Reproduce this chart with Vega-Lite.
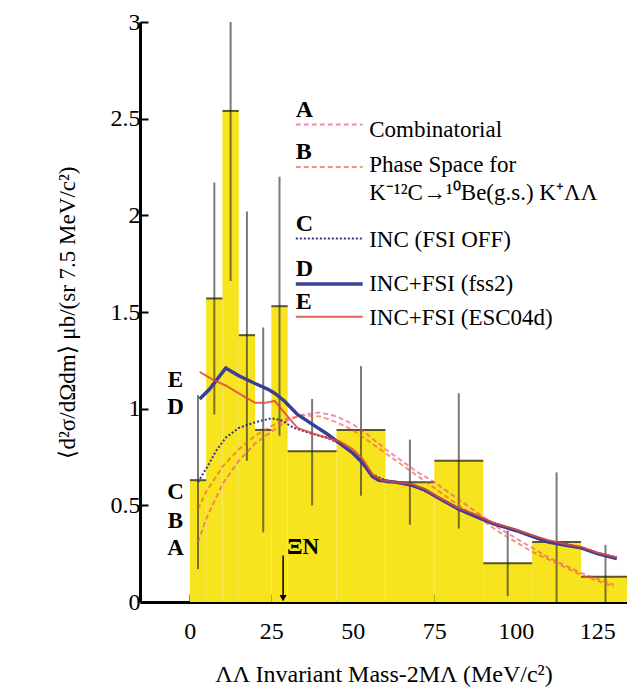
{
  "$schema": "https://vega.github.io/schema/vega-lite/v6.json",
  "autosize": {"type": "none"},
  "padding": {"left": 140, "top": 22, "right": 0, "bottom": 95},
  "width": 487,
  "height": 580,
  "background": "white",
  "config": {
    "view": {"stroke": null},
    "font": "Liberation Serif, Times New Roman, serif",
    "axis": {"labelFont": "Liberation Serif, Times New Roman, serif", "titleFont": "Liberation Serif, Times New Roman, serif", "labelColor": "black", "titleColor": "black", "titleFontWeight": "normal", "domainColor": "black", "tickColor": "black", "grid": false}
  },
  "datasets": {
    "hist": [
      {"lo": 0, "hi": 5, "xc": 2.5, "y": 0.63, "elo": 0.17, "ehi": 1.07},
      {"lo": 5, "hi": 10, "xc": 7.5, "y": 1.57, "elo": 0.97, "ehi": 2.17},
      {"lo": 10, "hi": 15, "xc": 12.5, "y": 2.54, "elo": 1.66, "ehi": 3.42},
      {"lo": 15, "hi": 20, "xc": 17.5, "y": 1.38, "elo": 0.73, "ehi": 2.02},
      {"lo": 20, "hi": 25, "xc": 22.5, "y": 0.89, "elo": 0.36, "ehi": 1.42},
      {"lo": 25, "hi": 30, "xc": 27.5, "y": 1.53, "elo": 0.86, "ehi": 2.2},
      {"lo": 30, "hi": 45, "xc": 37.5, "y": 0.78, "elo": 0.5, "ehi": 1.05},
      {"lo": 45, "hi": 60, "xc": 52.5, "y": 0.89, "elo": 0.55, "ehi": 1.22},
      {"lo": 60, "hi": 75, "xc": 67.5, "y": 0.62, "elo": 0.4, "ehi": 0.84},
      {"lo": 75, "hi": 90, "xc": 82.5, "y": 0.73, "elo": 0.38, "ehi": 1.08},
      {"lo": 90, "hi": 105, "xc": 97.5, "y": 0.2, "elo": 0.03, "ehi": 0.37},
      {"lo": 105, "hi": 120, "xc": 112.5, "y": 0.31, "elo": 0.0, "ehi": 0.67},
      {"lo": 120, "hi": 135, "xc": 127.5, "y": 0.13, "elo": 0.0, "ehi": 0.295}
    ],
    "curves": [
      {"model": "A", "seg": "key", "x": 32.5, "y": 2.47}, {"model": "A", "seg": "key", "x": 53, "y": 2.47},
      {"model": "A", "seg": "c", "x": 2.5, "y": 0.31}, {"model": "A", "seg": "c", "x": 5, "y": 0.43}, {"model": "A", "seg": "c", "x": 10, "y": 0.61},
      {"model": "A", "seg": "c", "x": 15, "y": 0.73}, {"model": "A", "seg": "c", "x": 20, "y": 0.82}, {"model": "A", "seg": "c", "x": 25, "y": 0.88},
      {"model": "A", "seg": "c", "x": 30, "y": 0.94}, {"model": "A", "seg": "c", "x": 35, "y": 0.97}, {"model": "A", "seg": "c", "x": 40, "y": 0.98},
      {"model": "A", "seg": "c", "x": 45, "y": 0.96}, {"model": "A", "seg": "c", "x": 50, "y": 0.92}, {"model": "A", "seg": "c", "x": 55, "y": 0.86},
      {"model": "A", "seg": "c", "x": 60, "y": 0.79}, {"model": "A", "seg": "c", "x": 65, "y": 0.73}, {"model": "A", "seg": "c", "x": 70, "y": 0.67},
      {"model": "A", "seg": "c", "x": 75, "y": 0.62}, {"model": "A", "seg": "c", "x": 80, "y": 0.56}, {"model": "A", "seg": "c", "x": 85, "y": 0.5},
      {"model": "A", "seg": "c", "x": 90, "y": 0.44}, {"model": "A", "seg": "c", "x": 95, "y": 0.38}, {"model": "A", "seg": "c", "x": 100, "y": 0.33},
      {"model": "A", "seg": "c", "x": 105, "y": 0.28}, {"model": "A", "seg": "c", "x": 110, "y": 0.23}, {"model": "A", "seg": "c", "x": 115, "y": 0.19},
      {"model": "A", "seg": "c", "x": 120, "y": 0.15}, {"model": "A", "seg": "c", "x": 125, "y": 0.12}, {"model": "A", "seg": "c", "x": 130, "y": 0.09},
      {"model": "B", "seg": "key", "x": 32.5, "y": 2.25}, {"model": "B", "seg": "key", "x": 53, "y": 2.25},
      {"model": "B", "seg": "c", "x": 2.5, "y": 0.48}, {"model": "B", "seg": "c", "x": 5, "y": 0.57}, {"model": "B", "seg": "c", "x": 10, "y": 0.7},
      {"model": "B", "seg": "c", "x": 15, "y": 0.79}, {"model": "B", "seg": "c", "x": 20, "y": 0.86}, {"model": "B", "seg": "c", "x": 25, "y": 0.91},
      {"model": "B", "seg": "c", "x": 30, "y": 0.95}, {"model": "B", "seg": "c", "x": 35, "y": 0.965}, {"model": "B", "seg": "c", "x": 40, "y": 0.96},
      {"model": "B", "seg": "c", "x": 45, "y": 0.93}, {"model": "B", "seg": "c", "x": 50, "y": 0.89}, {"model": "B", "seg": "c", "x": 55, "y": 0.83},
      {"model": "B", "seg": "c", "x": 60, "y": 0.77}, {"model": "B", "seg": "c", "x": 65, "y": 0.71}, {"model": "B", "seg": "c", "x": 70, "y": 0.65},
      {"model": "B", "seg": "c", "x": 75, "y": 0.59}, {"model": "B", "seg": "c", "x": 80, "y": 0.53}, {"model": "B", "seg": "c", "x": 85, "y": 0.47},
      {"model": "B", "seg": "c", "x": 90, "y": 0.42}, {"model": "B", "seg": "c", "x": 95, "y": 0.36}, {"model": "B", "seg": "c", "x": 100, "y": 0.31},
      {"model": "B", "seg": "c", "x": 105, "y": 0.26}, {"model": "B", "seg": "c", "x": 110, "y": 0.22}, {"model": "B", "seg": "c", "x": 115, "y": 0.18},
      {"model": "B", "seg": "c", "x": 120, "y": 0.14}, {"model": "B", "seg": "c", "x": 125, "y": 0.11}, {"model": "B", "seg": "c", "x": 130, "y": 0.08},
      {"model": "C", "seg": "key", "x": 32.5, "y": 1.88}, {"model": "C", "seg": "key", "x": 53, "y": 1.88},
      {"model": "C", "seg": "c", "x": 2.5, "y": 0.62}, {"model": "C", "seg": "c", "x": 5, "y": 0.69}, {"model": "C", "seg": "c", "x": 8, "y": 0.78},
      {"model": "C", "seg": "c", "x": 11, "y": 0.85}, {"model": "C", "seg": "c", "x": 15, "y": 0.9}, {"model": "C", "seg": "c", "x": 20, "y": 0.93},
      {"model": "C", "seg": "c", "x": 25, "y": 0.95}, {"model": "C", "seg": "c", "x": 28, "y": 0.94}, {"model": "C", "seg": "c", "x": 32, "y": 0.9},
      {"model": "C", "seg": "c", "x": 37.5, "y": 0.87}, {"model": "C", "seg": "c", "x": 42, "y": 0.85}, {"model": "C", "seg": "c", "x": 46, "y": 0.82},
      {"model": "C", "seg": "c", "x": 50, "y": 0.77}, {"model": "C", "seg": "c", "x": 53, "y": 0.71}, {"model": "C", "seg": "c", "x": 56, "y": 0.66},
      {"model": "C", "seg": "c", "x": 60, "y": 0.63}, {"model": "C", "seg": "c", "x": 65, "y": 0.615}, {"model": "C", "seg": "c", "x": 70, "y": 0.59},
      {"model": "C", "seg": "c", "x": 75, "y": 0.55}, {"model": "C", "seg": "c", "x": 82, "y": 0.49}, {"model": "C", "seg": "c", "x": 88, "y": 0.44},
      {"model": "C", "seg": "c", "x": 93, "y": 0.41}, {"model": "C", "seg": "c", "x": 100, "y": 0.37}, {"model": "C", "seg": "c", "x": 105, "y": 0.34},
      {"model": "C", "seg": "c", "x": 110, "y": 0.315}, {"model": "C", "seg": "c", "x": 115, "y": 0.3}, {"model": "C", "seg": "c", "x": 120, "y": 0.28},
      {"model": "C", "seg": "c", "x": 125, "y": 0.255}, {"model": "C", "seg": "c", "x": 131, "y": 0.23},
      {"model": "D", "seg": "key", "x": 32.5, "y": 1.645}, {"model": "D", "seg": "key", "x": 53, "y": 1.645},
      {"model": "D", "seg": "c", "x": 3, "y": 1.05}, {"model": "D", "seg": "c", "x": 6, "y": 1.1}, {"model": "D", "seg": "c", "x": 11, "y": 1.21},
      {"model": "D", "seg": "c", "x": 15, "y": 1.17}, {"model": "D", "seg": "c", "x": 20, "y": 1.13}, {"model": "D", "seg": "c", "x": 24, "y": 1.1},
      {"model": "D", "seg": "c", "x": 26, "y": 1.08}, {"model": "D", "seg": "c", "x": 29, "y": 1.04}, {"model": "D", "seg": "c", "x": 33, "y": 0.97},
      {"model": "D", "seg": "c", "x": 37.5, "y": 0.92}, {"model": "D", "seg": "c", "x": 42, "y": 0.87}, {"model": "D", "seg": "c", "x": 46, "y": 0.82},
      {"model": "D", "seg": "c", "x": 50, "y": 0.77}, {"model": "D", "seg": "c", "x": 53, "y": 0.72}, {"model": "D", "seg": "c", "x": 56, "y": 0.65},
      {"model": "D", "seg": "c", "x": 58, "y": 0.63}, {"model": "D", "seg": "c", "x": 63, "y": 0.62}, {"model": "D", "seg": "c", "x": 68, "y": 0.605},
      {"model": "D", "seg": "c", "x": 72, "y": 0.58}, {"model": "D", "seg": "c", "x": 76, "y": 0.54}, {"model": "D", "seg": "c", "x": 82.5, "y": 0.48},
      {"model": "D", "seg": "c", "x": 88, "y": 0.44}, {"model": "D", "seg": "c", "x": 93, "y": 0.405}, {"model": "D", "seg": "c", "x": 100, "y": 0.37},
      {"model": "D", "seg": "c", "x": 105, "y": 0.34}, {"model": "D", "seg": "c", "x": 110, "y": 0.31}, {"model": "D", "seg": "c", "x": 115, "y": 0.295},
      {"model": "D", "seg": "c", "x": 120, "y": 0.28}, {"model": "D", "seg": "c", "x": 125, "y": 0.25}, {"model": "D", "seg": "c", "x": 131, "y": 0.225},
      {"model": "E", "seg": "key", "x": 32.5, "y": 1.475}, {"model": "E", "seg": "key", "x": 53, "y": 1.475},
      {"model": "E", "seg": "c", "x": 3, "y": 1.19}, {"model": "E", "seg": "c", "x": 7, "y": 1.15}, {"model": "E", "seg": "c", "x": 11, "y": 1.12},
      {"model": "E", "seg": "c", "x": 14, "y": 1.09}, {"model": "E", "seg": "c", "x": 17, "y": 1.06}, {"model": "E", "seg": "c", "x": 20, "y": 1.03},
      {"model": "E", "seg": "c", "x": 23, "y": 1.03}, {"model": "E", "seg": "c", "x": 26, "y": 1.04}, {"model": "E", "seg": "c", "x": 29, "y": 0.98},
      {"model": "E", "seg": "c", "x": 33, "y": 0.9}, {"model": "E", "seg": "c", "x": 38, "y": 0.87}, {"model": "E", "seg": "c", "x": 42, "y": 0.85},
      {"model": "E", "seg": "c", "x": 46, "y": 0.83}, {"model": "E", "seg": "c", "x": 50, "y": 0.79}, {"model": "E", "seg": "c", "x": 53, "y": 0.74},
      {"model": "E", "seg": "c", "x": 56, "y": 0.66}, {"model": "E", "seg": "c", "x": 59, "y": 0.63}, {"model": "E", "seg": "c", "x": 63, "y": 0.62},
      {"model": "E", "seg": "c", "x": 68, "y": 0.61}, {"model": "E", "seg": "c", "x": 72, "y": 0.585}, {"model": "E", "seg": "c", "x": 76, "y": 0.545},
      {"model": "E", "seg": "c", "x": 82, "y": 0.49}, {"model": "E", "seg": "c", "x": 88, "y": 0.45}, {"model": "E", "seg": "c", "x": 93, "y": 0.41},
      {"model": "E", "seg": "c", "x": 100, "y": 0.375}, {"model": "E", "seg": "c", "x": 105, "y": 0.345}, {"model": "E", "seg": "c", "x": 110, "y": 0.32},
      {"model": "E", "seg": "c", "x": 115, "y": 0.3}, {"model": "E", "seg": "c", "x": 120, "y": 0.285}, {"model": "E", "seg": "c", "x": 125, "y": 0.255},
      {"model": "E", "seg": "c", "x": 131, "y": 0.23}
    ],
    "notes": [
      {"kind": "key", "label": "A", "x": 32.5, "y": 2.485},
      {"kind": "key", "label": "B", "x": 32.5, "y": 2.265},
      {"kind": "key", "label": "C", "x": 32.5, "y": 1.895},
      {"kind": "key", "label": "D", "x": 32.5, "y": 1.66},
      {"kind": "key", "label": "E", "x": 32.5, "y": 1.49},
      {"kind": "text", "label": "Combinatorial", "x": 55, "y": 2.44},
      {"kind": "text", "label": "Phase Space for", "x": 55, "y": 2.26},
      {"kind": "text", "label": "K⁻¹²C→¹⁰Be(g.s.) K⁺ΛΛ", "x": 55, "y": 2.115},
      {"kind": "text", "label": "INC (FSI OFF)", "x": 55, "y": 1.87},
      {"kind": "text", "label": "INC+FSI (fss2)", "x": 55, "y": 1.645},
      {"kind": "text", "label": "INC+FSI (ESC04d)", "x": 55, "y": 1.47},
      {"kind": "side", "label": "E", "x": -4.4, "y": 1.15},
      {"kind": "side", "label": "D", "x": -4.4, "y": 1.01},
      {"kind": "side", "label": "C", "x": -4.4, "y": 0.57},
      {"kind": "side", "label": "B", "x": -4.4, "y": 0.42},
      {"kind": "side", "label": "A", "x": -4.4, "y": 0.28},
      {"kind": "xi", "label": "ΞN", "x": 34.7, "y": 0.285}
    ],
    "arrow": [
      {"x": 28.6, "ytop": 0.24, "ybot": 0.02}
    ]
  },
  "layer": [
    {
      "data": {"name": "hist"},
      "mark": {"type": "rect", "color": "#f7e41e"},
      "encoding": {
        "x": {"field": "lo", "type": "quantitative", "scale": {"domain": [-15.3, 134.1], "nice": false, "zero": false},
          "axis": {"values": [0, 25, 50, 75, 100, 125], "title": "ΛΛ Invariant Mass-2MΛ (MeV/c²)", "labelFontSize": 24, "titleFontSize": 24, "tickSize": -8, "tickWidth": 2, "domainWidth": 3, "labelPadding": 25, "titlePadding": 19}},
        "x2": {"field": "hi"},
        "y": {"field": "y", "type": "quantitative", "scale": {"domain": [0, 3], "nice": false, "zero": true},
          "axis": {"values": [0, 0.5, 1, 1.5, 2, 2.5, 3], "format": "~g", "title": "⟨d²σ/dΩdm⟩ μb/(sr 7.5 MeV/c²)", "labelFontSize": 24, "titleFontSize": 23, "tickSize": -8, "tickWidth": 2, "domainWidth": 3, "labelPadding": 8, "titlePadding": 31}},
        "y2": {"datum": 0}
      }
    },
    {
      "data": {"name": "hist"},
      "mark": {"type": "rule", "color": "#5a5428", "strokeWidth": 2},
      "encoding": {
        "x": {"field": "lo", "type": "quantitative"},
        "x2": {"field": "hi"},
        "y": {"field": "y", "type": "quantitative"}
      }
    },
    {
      "data": {"name": "hist"},
      "mark": {"type": "rule", "color": "#222222", "opacity": 0.6, "strokeWidth": 2, "clip": true},
      "encoding": {
        "x": {"field": "xc", "type": "quantitative"},
        "y": {"field": "elo", "type": "quantitative"},
        "y2": {"field": "ehi"}
      }
    },
    {
      "data": {"name": "curves"},
      "transform": [{"filter": "datum.model === 'A'"}],
      "mark": {"type": "line", "color": "#e84a8c", "strokeWidth": 2, "strokeDash": [5, 3], "opacity": 0.62},
      "encoding": {"x": {"field": "x", "type": "quantitative"}, "y": {"field": "y", "type": "quantitative"}, "detail": {"field": "seg"}}
    },
    {
      "data": {"name": "curves"},
      "transform": [{"filter": "datum.model === 'B'"}],
      "mark": {"type": "line", "color": "#f0582c", "strokeWidth": 2, "strokeDash": [5, 3], "opacity": 0.62},
      "encoding": {"x": {"field": "x", "type": "quantitative"}, "y": {"field": "y", "type": "quantitative"}, "detail": {"field": "seg"}}
    },
    {
      "data": {"name": "curves"},
      "transform": [{"filter": "datum.model === 'C'"}],
      "mark": {"type": "line", "color": "#34348a", "strokeWidth": 2, "strokeDash": [2, 2]},
      "encoding": {"x": {"field": "x", "type": "quantitative"}, "y": {"field": "y", "type": "quantitative"}, "detail": {"field": "seg"}}
    },
    {
      "data": {"name": "curves"},
      "transform": [{"filter": "datum.model === 'D'"}],
      "mark": {"type": "line", "color": "#3a3e96", "strokeWidth": 3.5},
      "encoding": {"x": {"field": "x", "type": "quantitative"}, "y": {"field": "y", "type": "quantitative"}, "detail": {"field": "seg"}}
    },
    {
      "data": {"name": "curves"},
      "transform": [{"filter": "datum.model === 'E'"}],
      "mark": {"type": "line", "color": "#e04838", "strokeWidth": 2, "opacity": 0.85},
      "encoding": {"x": {"field": "x", "type": "quantitative"}, "y": {"field": "y", "type": "quantitative"}, "detail": {"field": "seg"}}
    },
    {
      "data": {"name": "notes"},
      "transform": [{"filter": "datum.kind === 'key'"}],
      "mark": {"type": "text", "align": "left", "baseline": "bottom", "font": "Liberation Serif, Times New Roman, serif", "fontSize": 24, "fontWeight": "bold", "color": "black"},
      "encoding": {"x": {"field": "x", "type": "quantitative"}, "y": {"field": "y", "type": "quantitative"}, "text": {"field": "label"}}
    },
    {
      "data": {"name": "notes"},
      "transform": [{"filter": "datum.kind === 'text'"}],
      "mark": {"type": "text", "align": "left", "baseline": "middle", "font": "Liberation Serif, Times New Roman, serif", "fontSize": 23, "color": "black"},
      "encoding": {"x": {"field": "x", "type": "quantitative"}, "y": {"field": "y", "type": "quantitative"}, "text": {"field": "label"}}
    },
    {
      "data": {"name": "notes"},
      "transform": [{"filter": "datum.kind === 'side' || datum.kind === 'xi'"}],
      "mark": {"type": "text", "align": "center", "baseline": "middle", "font": "Liberation Serif, Times New Roman, serif", "fontSize": 23, "fontWeight": "bold", "color": "black"},
      "encoding": {"x": {"field": "x", "type": "quantitative"}, "y": {"field": "y", "type": "quantitative"}, "text": {"field": "label"}}
    },
    {
      "data": {"name": "arrow"},
      "mark": {"type": "rule", "color": "black", "strokeWidth": 1.5},
      "encoding": {"x": {"field": "x", "type": "quantitative"}, "y": {"field": "ytop", "type": "quantitative"}, "y2": {"field": "ybot"}}
    },
    {
      "data": {"name": "arrow"},
      "mark": {"type": "point", "shape": "triangle-down", "filled": true, "color": "black", "size": 50, "opacity": 1},
      "encoding": {"x": {"field": "x", "type": "quantitative"}, "y": {"field": "ybot", "type": "quantitative"}}
    },
    {
      "mark": {"type": "rule", "color": "black", "strokeWidth": 3},
      "encoding": {"y": {"datum": 3}}
    }
  ]
}
